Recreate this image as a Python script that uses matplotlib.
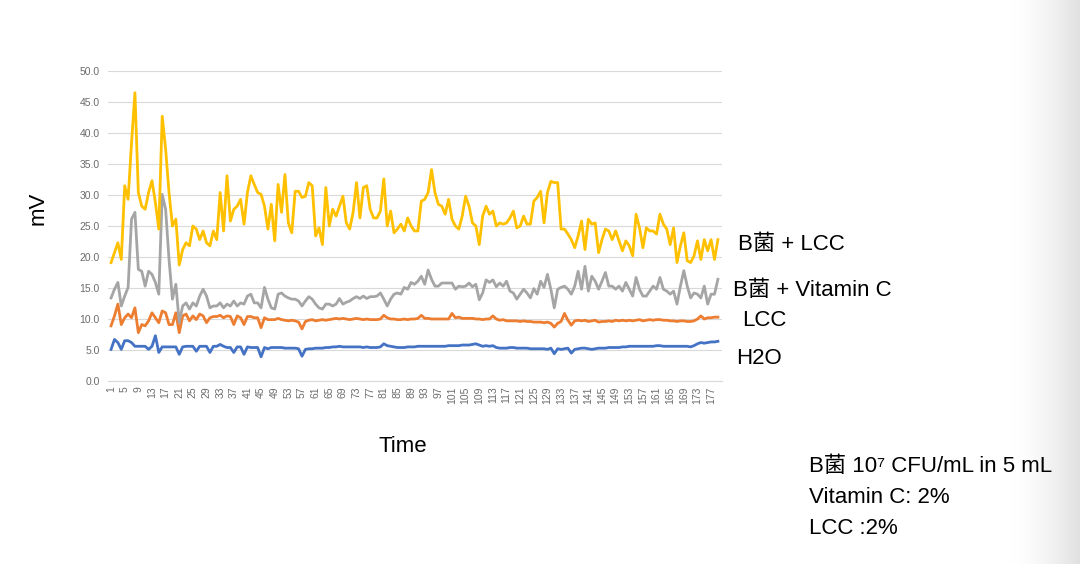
import numpy as np
import matplotlib
matplotlib.use("Agg")
import matplotlib.pyplot as plt

# values, one per time step (1..179)
h2o = [5.1, 6.7, 6.2, 5.1, 6.5, 6.5, 6.2, 5.6, 5.6, 5.6,
       5.6, 5.1, 5.6, 7.3, 4.6, 5.5, 5.5, 5.5, 5.5, 5.5,
       4.3, 5.5, 5.6, 5.6, 5.6, 4.8, 5.6, 5.6, 5.6, 4.6,
       5.6, 5.6, 5.9, 5.6, 5.4, 5.4, 4.6, 5.5, 5.5, 4.3,
       5.5, 5.4, 5.4, 5.4, 3.9, 5.4, 5.2, 5.4, 5.4, 5.4,
       5.4, 5.3, 5.3,
       5.3, 5.3, 5.2, 4.0, 5.1, 5.2, 5.2, 5.3, 5.3, 5.3,
       5.4, 5.4, 5.5, 5.5, 5.6, 5.5, 5.5, 5.5, 5.5, 5.5,
       5.5, 5.4, 5.5, 5.4, 5.4, 5.4, 5.5, 6.0, 5.7, 5.6,
       5.5, 5.4, 5.4, 5.4, 5.5, 5.5, 5.5, 5.6, 5.6, 5.6,
       5.6, 5.6, 5.6, 5.6, 5.6, 5.6, 5.7, 5.7, 5.7, 5.7,
       5.8, 5.8, 5.8, 5.9, 6.0, 5.8, 5.6, 5.7, 5.6, 5.7,
       5.4, 5.3, 5.3, 5.3,
       5.4, 5.4, 5.3, 5.3, 5.3, 5.3, 5.2, 5.2, 5.2, 5.2,
       5.2, 5.1, 5.3, 4.4, 5.2, 5.1, 5.2, 5.3, 4.5, 5.1,
       5.2, 5.3, 5.3, 5.2, 5.1, 5.2, 5.3, 5.3, 5.3, 5.4,
       5.4, 5.4, 5.4, 5.5, 5.5, 5.6, 5.6, 5.6, 5.6, 5.6,
       5.6, 5.6, 5.6, 5.7, 5.7, 5.6, 5.6, 5.6, 5.6, 5.6,
       5.6, 5.6, 5.6, 5.5, 5.7, 6.0, 6.2, 6.1, 6.2, 6.3,
       6.3, 6.4]

lcc = [8.9, 10.5, 12.4, 9.1, 10.2, 10.8, 10.2, 11.8, 7.8, 9.1,
       8.9, 9.7, 11.0, 10.2, 9.4, 11.3, 11.0, 9.1, 9.1, 11.0,
       7.8, 10.5, 10.8, 9.7, 10.5, 9.9, 10.8, 10.5, 9.4, 10.2,
       10.4, 10.4, 10.6, 10.2, 10.5, 10.4, 9.1, 10.5, 10.2, 9.1,
       10.4, 10.4, 10.2, 10.2, 8.6, 10.2, 9.9, 9.9, 9.9, 10.1,
       9.9, 9.8, 9.7,
       9.8, 9.7, 9.5, 8.4, 9.6, 9.8, 9.9, 9.7, 9.8, 9.9,
       9.8, 9.9, 10.0, 10.1, 10.0, 10.1, 10.0, 9.9, 10.0, 10.1,
       10.0, 9.9, 10.0, 9.9, 9.9, 9.9, 10.0, 10.6, 10.2, 10.0,
       10.0, 9.9, 9.9, 10.0, 9.9, 10.0, 10.0, 10.1, 10.6, 10.1,
       10.1, 10.0, 10.0, 10.0, 10.0, 10.0, 10.0, 10.9, 10.2, 10.3,
       10.1, 10.1, 10.1, 10.1, 10.0, 10.0, 9.9, 10.0, 10.0, 10.5,
       10.0, 9.8, 9.9, 9.7,
       9.7, 9.7, 9.7, 9.6, 9.7, 9.6, 9.6, 9.5, 9.5, 9.5,
       9.4, 9.5, 9.3, 8.7, 9.3, 9.6, 10.9, 9.8, 9.0, 9.7,
       9.8, 9.7, 9.8, 9.6, 9.7, 9.8, 9.5, 9.6, 9.6, 9.7,
       9.6, 9.8, 9.7, 9.8, 9.7, 9.8, 9.7, 9.8, 9.9, 9.7,
       9.8, 9.9, 9.8, 9.9, 9.9, 9.8, 9.8, 9.7, 9.7, 9.6,
       9.7, 9.7, 9.6, 9.6, 9.7, 10.0, 10.5, 10.0, 10.2, 10.2,
       10.3, 10.3]

b_vitc = [13.4, 14.8, 15.9, 12.1, 13.7, 15.1, 26.1, 27.2, 18.0, 17.7,
          15.3, 17.7, 17.2, 15.9, 14.0, 30.1, 27.7, 19.6, 13.2, 15.6,
          9.4, 12.1, 12.6, 11.6, 12.6, 12.1, 13.7, 14.8, 13.7, 11.8,
          12.1, 12.1, 12.6, 11.8, 12.4, 12.1, 12.9, 12.1, 12.6, 12.4,
          13.7, 14.0, 12.6, 12.6, 11.8, 15.1, 13.2, 11.8, 11.6, 14.0,
          14.2, 13.7, 13.4,
          13.2, 13.2, 12.9, 12.1, 12.9, 13.6, 13.2, 12.4, 11.8, 11.6,
          12.4, 12.4, 12.1, 12.4, 13.3, 12.4, 12.7, 12.9, 13.3, 13.6,
          13.3, 13.7, 13.3, 13.6, 13.6, 13.7, 14.2, 13.2, 12.1, 13.2,
          14.0, 14.2, 14.0, 15.1, 14.8, 15.9, 15.6, 16.1, 16.9, 15.6,
          17.9, 16.4, 15.3, 15.3, 15.8, 15.8, 15.8, 15.8, 14.8, 15.3,
          15.2, 15.3, 15.8, 15.2, 15.6, 13.1, 14.2, 16.3, 15.9, 16.3,
          15.2, 15.8, 15.3, 16.1,
          14.5, 14.2, 13.2, 14.0, 14.8, 14.2, 13.4, 14.9, 14.0, 16.1,
          15.1, 17.2, 14.8, 11.8, 14.8, 15.1, 15.3, 14.8, 14.0, 15.3,
          17.7, 14.8, 18.5, 14.5, 16.9, 16.1, 14.8, 16.1, 17.5, 15.3,
          15.3, 14.8, 15.3, 14.5, 15.9, 14.8, 13.7, 16.7, 14.8, 13.7,
          13.7, 14.5, 15.3, 14.8, 16.7, 14.8, 14.5, 14.0, 14.5, 12.4,
          15.3, 17.8, 15.3, 13.4, 14.2, 14.0, 13.4, 15.3, 12.4, 14.0,
          14.0, 16.4]

b_lcc = [19.1, 20.7, 22.3, 19.6, 31.5, 29.3, 38.4, 46.5, 30.4, 28.2,
         27.7, 30.4, 32.3, 28.8, 24.5, 42.7, 37.4, 30.4, 25.0, 26.1,
         18.7, 21.2, 22.3, 21.8, 25.0, 24.5, 22.8, 24.2, 22.3, 21.8,
         24.2, 22.8, 30.4, 24.2, 33.1, 25.8, 27.7, 28.2, 29.3, 25.3,
         30.4, 33.1, 31.7, 30.4, 30.1, 28.2, 24.5, 28.5, 22.6, 31.7,
         27.2, 33.3, 25.5,
         23.9, 30.6, 30.6, 29.6, 29.8, 32.0, 31.5, 23.4, 24.7, 22.0,
         31.2, 25.0, 27.7, 26.6, 28.2, 29.8, 25.5, 24.5, 27.2, 32.0,
         26.3, 31.2, 31.5, 27.7, 26.3, 26.3, 27.4, 32.6, 25.0, 27.4,
         23.9, 24.5, 25.3, 24.2, 26.3, 25.0, 24.2, 24.2, 29.0, 29.3,
         30.4, 34.1, 30.4, 28.5, 28.2, 26.9, 29.3, 26.1, 25.0, 24.5,
         26.6, 29.8, 28.2, 25.5, 25.0, 22.0, 26.6, 28.2, 26.9, 27.4,
         25.0, 25.5, 25.3, 25.5,
         26.3, 27.4, 24.7, 25.0, 26.6, 25.3, 25.3, 29.0, 29.6, 30.6,
         25.5, 30.4, 32.2, 32.0, 32.0, 24.5, 24.5, 23.7, 22.8, 21.5,
         23.4, 25.8, 21.2, 26.1, 25.3, 25.5, 20.7, 22.8, 24.5, 24.2,
         22.8, 24.2, 22.6, 21.0, 22.6, 21.8, 20.2, 26.9, 24.7, 21.5,
         24.7, 24.2, 24.2, 23.7, 26.9, 25.3, 24.5, 22.0, 24.7, 19.1,
         21.8, 23.9, 19.4, 19.1, 20.2, 22.6, 19.6, 22.8, 21.0, 22.8,
         19.6, 22.8]

series_names = ["H2O", "LCC", "B菌 + Vitamin C", "B菌 + LCC"]
series_colors = ["#4472C4", "#ED7D31", "#A5A5A5", "#FFC000"]
note_lines = ["B菌 10⁷ CFU/mL in 5 mL", "Vitamin C: 2%", "LCC :2%"]

fonts = ["Liberation Sans", "DejaVu Sans", "Noto Sans CJK SC"]
plt.rcParams["font.family"] = fonts

fig = plt.figure(figsize=(10.8, 5.64), dpi=100)
ax = fig.add_axes([108 / 1080, 1 - 381 / 564, 614 / 1080, 310 / 564])

for vals, col in zip([h2o, lcc, b_vitc, b_lcc], series_colors):
    x = np.arange(1, len(vals) + 1)
    ax.plot(x, vals, color=col, lw=2.0, solid_joinstyle="round")

ax.set_ylim(0, 50)
ax.set_xlim(0.1, 180.2)
ax.set_yticks(np.arange(0, 51, 5))
ax.set_yticklabels([f"{v:.1f}" for v in np.arange(0, 51, 5)])
ax.set_xticks(np.arange(1, 178, 4))
ax.set_xticklabels([str(v) for v in np.arange(1, 178, 4)], rotation=90)
ax.tick_params(axis="both", length=0, labelsize=7.5, colors="#6b6b6b")
ax.tick_params(axis="x", pad=4)
ax.tick_params(axis="y", pad=6)
ax.grid(axis="y", color="#d9d9d9", lw=0.8)
ax.set_axisbelow(True)
for s in ["top", "right", "left"]:
    ax.spines[s].set_visible(False)
ax.spines["bottom"].set_color("#d9d9d9")
ax.spines["bottom"].set_linewidth(0.8)

fig.text(38 / 1080, 1 - 208 / 564, "mV", rotation=90, fontsize=16,
         ha="center", va="center")
fig.text(403 / 1080, 1 - 447 / 564, "Time", fontsize=16,
         ha="center", va="center")

# labels next to the lines
label_pos = [(736, 358), (742, 321), (733, 290), (738, 245)]
for name, (px, py) in zip(series_names, label_pos):
    fig.text(px / 1080, 1 - py / 564, name, fontsize=16,
             ha="left", va="center")

for k, line in enumerate(note_lines):
    fig.text(809 / 1080, 1 - (466 + 31.5 * k) / 564, line, fontsize=16,
             ha="left", va="center")

# grey shade at the right edge of the screenshot
gax = fig.add_axes([1010 / 1080, 0, 70 / 1080, 1])
grad = np.linspace(0, 1, 200) ** 1.6
rgb = 1 - grad[None, :, None] * np.array([0.12, 0.12, 0.12])[None, None, :]
gax.imshow(np.repeat(rgb, 2, axis=0), aspect="auto", extent=[0, 1, 0, 1])
gax.set_axis_off()
gax.set_zorder(-1)

fig.savefig("out.png", dpi=100)
